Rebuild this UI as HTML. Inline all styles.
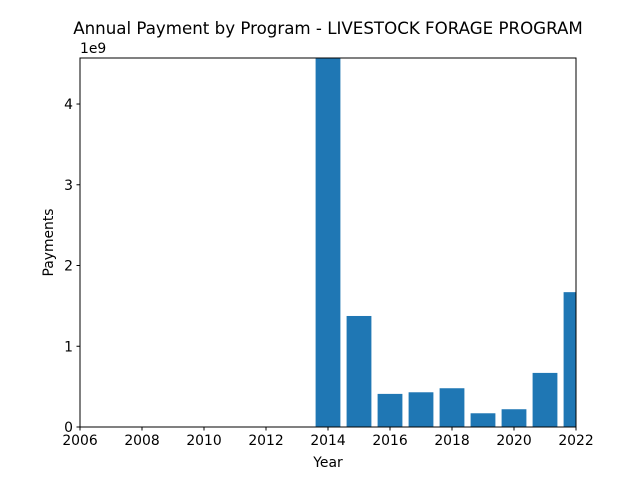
<!DOCTYPE html>
<html><head><meta charset="utf-8"><style>
body{margin:0;background:#fff}
svg{display:block;font-family:"DejaVu Sans","Liberation Sans",sans-serif}
</style></head><body>
<svg id="chart" width="640" height="480">
<rect width="640" height="480" fill="#fff"/>
<text x="328" y="34" text-anchor="middle" font-size="16.67">Annual Payment by Program - LIVESTOCK FORAGE PROGRAM</text>
<g id="bars"></g>
<g id="axes"></g>
</svg>
<script>
const years=[2014,2015,2016,2017,2018,2019,2020,2021,2022];
const payments=[4.57,1.375,0.41,0.43,0.48,0.17,0.22,0.67,1.67]; // in 1e9
const xTicks=[2006,2008,2010,2012,2014,2016,2018,2020,2022];
const yTicks=[0,1,2,3,4];
const L=80,R=576,T=58,B=427,xmin=2006,xmax=2022,ymax=4.57;
const ns="http://www.w3.org/2000/svg";
const sx=v=>L+(v-xmin)/(xmax-xmin)*(R-L);
const sy=v=>B-v/ymax*(B-T);
function mk(tag,attrs,parent){const e=document.createElementNS(ns,tag);for(const k in attrs)e.setAttribute(k,attrs[k]);parent.appendChild(e);return e;}
const svg=document.getElementById('chart');
const defs=mk('defs',{},svg);
const cp=mk('clipPath',{id:'clip'},defs);
mk('rect',{x:L,y:T,width:R-L,height:B-T},cp);
const bars=document.getElementById('bars');
bars.setAttribute('clip-path','url(#clip)');
years.forEach((y,i)=>{
  const x0=sx(y-0.4),x1=sx(y+0.4),top=sy(payments[i]);
  const r=mk('rect',{x:x0,y:top,width:x1-x0,height:B-top,fill:'#1f77b4'},bars);
  
  
});
const ax=document.getElementById('axes');
const fr=mk('rect',{x:L,y:T,width:R-L,height:B-T,fill:'none',stroke:'#000','stroke-width':1},ax);


xTicks.forEach(t=>{
  const x=sx(t);
  mk('line',{x1:x,x2:x,y1:B,y2:B+3.5,stroke:'#000'},ax);
  const tx=mk('text',{x:x,y:B+18,'text-anchor':'middle','font-size':13.9},ax);
  tx.textContent=t;
  
  
});
yTicks.forEach(t=>{
  const y=sy(t);
  mk('line',{x1:L-3.5,x2:L,y1:y,y2:y,stroke:'#000'},ax);
  const tx=mk('text',{x:L-7,y:y+5,'text-anchor':'end','font-size':13.9},ax);
  tx.textContent=t;
  
  
});
const ex=mk('text',{x:L,y:T-5,'font-size':13.9},ax);ex.textContent='1e9';


const xl=mk('text',{x:(L+R)/2,y:467,'text-anchor':'middle','font-size':13.9},ax);xl.textContent='Year';


const yl=mk('text',{x:0,y:0,'text-anchor':'middle','font-size':13.9,transform:`translate(53,${(T+B)/2}) rotate(-90)`},ax);yl.textContent='Payments';


</script>
</body></html>
